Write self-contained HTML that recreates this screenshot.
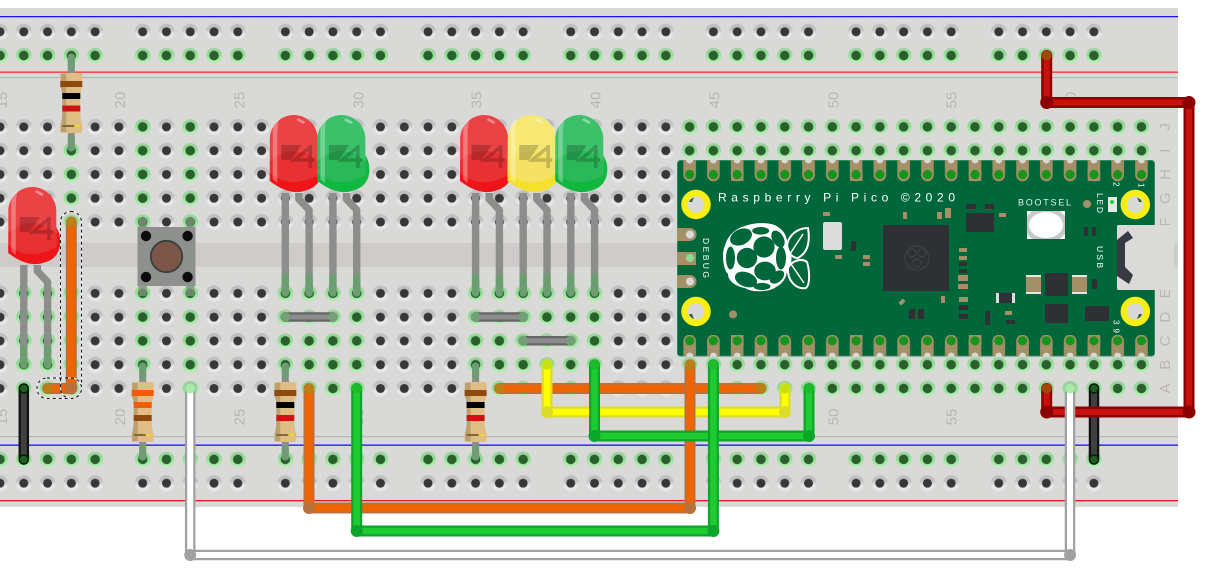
<!DOCTYPE html>
<html><head><meta charset="utf-8"><style>
html,body{margin:0;padding:0;background:#fff;width:1208px;height:580px;overflow:hidden}
svg{display:block}
text{font-family:"Liberation Sans",sans-serif}
.n{fill:#bab5b3;font-size:15px;text-anchor:middle}
.w{fill:#fff}
</style></head><body>
<svg width="1208" height="580" viewBox="0 0 1208 580" xmlns="http://www.w3.org/2000/svg">
<defs>
<linearGradient id="gd" x1="0" y1="0" x2="0" y2="1"><stop offset=".35" stop-color="#bfc0bf"/><stop offset=".65" stop-color="#e6e7e6"/></linearGradient>
<linearGradient id="gg" x1="0" y1="0" x2="0" y2="1"><stop offset="0" stop-color="#a8cfa8"/><stop offset=".3" stop-color="#8ed892"/><stop offset="1" stop-color="#b8f0b8"/></linearGradient>
<pattern id="dk" patternUnits="userSpaceOnUse" x="-11.89" y="115.01" width="23.78" height="23.78">
<circle cx="11.89" cy="11.89" r="8" fill="url(#gd)"/><circle cx="11.89" cy="11.89" r="4.5" fill="#363736"/></pattern>
<pattern id="gr" patternUnits="userSpaceOnUse" x="-11.89" y="115.01" width="23.78" height="23.78">
<circle cx="11.89" cy="11.89" r="7.8" fill="url(#gg)"/><circle cx="11.89" cy="11.89" r="4.8" fill="#2a602c"/></pattern>
<pattern id="pt" patternUnits="userSpaceOnUse" x="-11.89" y="160" width="23.78" height="22">
<path d="M5.6 0H18.2V15A6.3 6.3 0 0 1 5.6 15Z" fill="#a39067"/><circle cx="11.89" cy="0" r="3.4" fill="#d9dad8"/><circle cx="11.89" cy="14.5" r="4.6" fill="#17941c"/></pattern>
<pattern id="pb" patternUnits="userSpaceOnUse" x="-11.89" y="335" width="23.78" height="22">
<path d="M5.6 21H18.2V6A6.3 6.3 0 0 0 5.6 6Z" fill="#a39067"/><circle cx="11.89" cy="21" r="3.4" fill="#d9dad8"/><circle cx="11.89" cy="5.8" r="4.6" fill="#17941c"/></pattern>
<clipPath id="rc"><rect x="-11.89" y="0" width="118.9" height="580"/><rect x="130.79" y="0" width="118.9" height="580"/><rect x="273.47" y="0" width="118.9" height="580"/><rect x="416.15" y="0" width="118.9" height="580"/><rect x="558.83" y="0" width="118.9" height="580"/><rect x="701.51" y="0" width="118.9" height="580"/><rect x="844.19" y="0" width="118.9" height="580"/><rect x="986.87" y="0" width="118.9" height="580"/></clipPath>
<g id="led">
<path d="M0 78V178M13.5 78V84L23.8 95V178" fill="none" stroke="#8c8e8c" stroke-width="7.4" stroke-linejoin="round"/>
<path d="M0 162V178M23.8 162V178" stroke="#6b9e70" stroke-width="7.4" stroke-linecap="round"/>
<path d="M-15.5 58V66Q5 82 22 75C32 72 36.5 64 36.5 54C36.5 48 34.5 44 32.5 40V58Q8 72-15.5 58Z" style="fill:var(--f)"/>
<path d="M-15.5 24A24 24 0 0 1 32.5 24V60Q8 74-15.5 60Z" style="fill:var(--d)"/>
<path d="M-15.5 46Q8 26 32.5 46V60Q8 74-15.5 60Z" style="fill:var(--l)"/>
<path d="M-15.5 58Q8 76 32.5 60V64Q8 80-15.5 66Z" style="fill:var(--f)"/>
<path d="M-12.5 14Q-12 6-6 4Q-8 10-8 20V68L-12.5 64Z" fill="#fff" opacity=".3"/>
<path d="M13 3L20 7L18 9L11 5Z" fill="#fff" opacity=".4"/>
<g opacity=".2">
<path d="M-4 30H16L6 45H-4Z" fill="#000"/>
<path d="M25 30V53M25 32L9 45H29" fill="none" stroke="#000" stroke-width="3.5"/>
</g>
</g>
<g id="res">
<path d="M0-18V77" stroke="#8c8e8c" stroke-width="7"/>
<path d="M0-16V-6M0 66V75" stroke="#6f9c75" stroke-width="7" stroke-linecap="round"/>
<path d="M-11 2Q-11 0-9 0H9Q11 0 11 2V14Q9 18 9 24V40Q9 46 11 52V57Q11 60 9 60H-9Q-11 60-11 57V52Q-9 46-9 40V24Q-9 18-11 14Z" fill="#e0bd83"/>
<path d="M-10.5 1H-5V59H-10.5V52Q-9 46-9 40V24Q-9 18-10.5 14Z" fill="#8f7a55" opacity=".45"/>
<rect x="-9" y="52" width="18" height="2" fill="#7d6a3c"/><rect x="3" y="52" width="6" height="2" fill="#e8d840"/>
</g>
</defs>

<!-- board -->
<rect x="0" y="8" width="1178" height="499" fill="#d9dad8"/>
<rect x="0" y="243" width="1178" height="24" fill="#d0cbcb"/>
<rect x="0" y="16" width="1178" height="1.3" fill="#1414f0"/>
<rect x="0" y="71.5" width="1178" height="1.3" fill="#f03030"/>
<rect x="0" y="77" width="1178" height="1.2" fill="#bab5b2"/>
<rect x="0" y="436" width="1178" height="1.2" fill="#bab5b2"/>
<rect x="0" y="444.5" width="1178" height="1.3" fill="#1414f0"/>
<rect x="0" y="500" width="1178" height="1.3" fill="#f01414"/>

<!-- rail holes -->
<g clip-path="url(#rc)">
<rect x="-12" y="19.89" width="1200" height="23.78" fill="url(#dk)"/>
<rect x="-12" y="43.67" width="1200" height="23.78" fill="url(#gr)"/>
<g transform="translate(0,-.4)">
<rect x="-12" y="447.91" width="1200" height="23.78" fill="url(#gr)"/>
<rect x="-12" y="471.69" width="1200" height="23.78" fill="url(#dk)"/>
</g>
</g>
<!-- main holes -->
<rect x="-11.89" y="115.01" width="1165.22" height="118.9" fill="url(#dk)"/>
<rect x="-11.89" y="281.47" width="1165.22" height="118.9" fill="url(#dk)"/>
<g fill="#d9dad8">
<rect x="59.45" y="138.79" width="23.78" height="95.12"/><rect x="130.79" y="115.01" width="23.78" height="118.9"/><rect x="178.35" y="115.01" width="23.78" height="118.9"/><rect x="677.73" y="115.01" width="475.6" height="118.9"/>
<rect x="11.89" y="281.47" width="71.34" height="118.9"/><rect x="130.79" y="281.47" width="23.78" height="118.9"/><rect x="178.35" y="281.47" width="23.78" height="118.9"/><rect x="273.47" y="281.47" width="95.12" height="118.9"/><rect x="463.71" y="281.47" width="142.68" height="118.9"/><rect x="677.73" y="281.47" width="475.6" height="118.9"/>
</g>
<g fill="url(#gr)">
<rect x="59.45" y="138.79" width="23.78" height="95.12"/><rect x="130.79" y="115.01" width="23.78" height="118.9"/><rect x="178.35" y="115.01" width="23.78" height="118.9"/><rect x="677.73" y="115.01" width="475.6" height="118.9"/>
<rect x="11.89" y="281.47" width="71.34" height="118.9"/><rect x="130.79" y="281.47" width="23.78" height="118.9"/><rect x="178.35" y="281.47" width="23.78" height="118.9"/><rect x="273.47" y="281.47" width="95.12" height="118.9"/><rect x="463.71" y="281.47" width="142.68" height="118.9"/><rect x="677.73" y="281.47" width="475.6" height="118.9"/>
</g>

<!-- labels -->
<g class="n">
<text transform="translate(7,100) rotate(-90)">15</text><text transform="translate(125,100) rotate(-90)">20</text><text transform="translate(244.5,100) rotate(-90)">25</text><text transform="translate(363.5,100) rotate(-90)">30</text><text transform="translate(481.5,100) rotate(-90)">35</text><text transform="translate(600.5,100) rotate(-90)">40</text><text transform="translate(719.5,100) rotate(-90)">45</text><text transform="translate(838.5,100) rotate(-90)">50</text><text transform="translate(956.5,100) rotate(-90)">55</text><text transform="translate(1075.5,100) rotate(-90)">60</text>
<text transform="translate(7,417) rotate(-90)">15</text><text transform="translate(125,417) rotate(-90)">20</text><text transform="translate(244.5,417) rotate(-90)">25</text><text transform="translate(363.5,417) rotate(-90)">30</text><text transform="translate(481.5,417) rotate(-90)">35</text><text transform="translate(600.5,417) rotate(-90)">40</text><text transform="translate(719.5,417) rotate(-90)">45</text><text transform="translate(838.5,417) rotate(-90)">50</text><text transform="translate(956.5,417) rotate(-90)">55</text><text transform="translate(1075.5,417) rotate(-90)">60</text>
<text transform="translate(1170,127) rotate(-90)">J</text><text transform="translate(1170,150.7) rotate(-90)">I</text><text transform="translate(1170,174.5) rotate(-90)">H</text><text transform="translate(1170,198.2) rotate(-90)">G</text><text transform="translate(1170,222) rotate(-90)">F</text><text transform="translate(1170,293.4) rotate(-90)">E</text><text transform="translate(1170,317.2) rotate(-90)">D</text><text transform="translate(1170,341) rotate(-90)">C</text><text transform="translate(1170,364.8) rotate(-90)">B</text><text transform="translate(1170,388.5) rotate(-90)">A</text>
</g>

<!-- Pico -->
<rect x="677.5" y="160.5" width="477" height="195.5" rx="3" fill="#00673a" stroke="#2f8a60" stroke-width="1"/>
<rect x="677.73" y="160" width="475.6" height="22" fill="url(#pt)"/>
<rect x="677.73" y="335" width="475.6" height="21.5" fill="url(#pb)"/>
<g fill="#a39067">
<rect x="731" y="171" width="12.5" height="10"/><rect x="850" y="171" width="12.5" height="10"/><rect x="968.8" y="171" width="12.5" height="10"/><rect x="1087.7" y="171" width="12.5" height="10"/>
<rect x="731" y="335" width="12.5" height="10"/><rect x="850" y="335" width="12.5" height="10"/><rect x="968.8" y="335" width="12.5" height="10"/><rect x="1087.7" y="335" width="12.5" height="10"/>
</g>
<g fill="#17941c">
<circle cx="737.2" cy="174.5" r="4.6"/><circle cx="856.1" cy="174.5" r="4.6"/><circle cx="975" cy="174.5" r="4.6"/><circle cx="1093.9" cy="174.5" r="4.6"/>
<circle cx="737.2" cy="340.8" r="4.6"/><circle cx="856.1" cy="340.8" r="4.6"/><circle cx="975" cy="340.8" r="4.6"/><circle cx="1093.9" cy="340.8" r="4.6"/>
</g>
<!-- debug pads -->
<g fill="#a39067"><path d="M677 228H690A6.5 6.5 0 0 1 690 241H677Z"/><rect x="677" y="252" width="19" height="13"/><path d="M677 275H690A6.5 6.5 0 0 1 690 288H677Z"/></g>
<circle cx="690" cy="234.5" r="4" fill="#d9dad8"/><circle cx="690" cy="258" r="4" fill="#8fdc8f"/><circle cx="690" cy="281.5" r="4" fill="#d9dad8"/>
<!-- mounting holes -->
<g fill="#d9dad8" stroke="#f8ee16" stroke-width="6.5">
<circle cx="696" cy="204.5" r="11.5"/><circle cx="696" cy="311.5" r="11.5"/><circle cx="1135.3" cy="204.5" r="11.5"/><circle cx="1135.3" cy="311.5" r="11.5"/>
</g>
<g fill="#2a602c"><path d="M689 202A8 8 0 0 1 694 197.5L692 202Z"/><path d="M689 314A8 8 0 0 0 694 319L692 314Z"/><path d="M1142 202A8 8 0 0 0 1137 197.5L1139 202Z"/><path d="M1142 314A8 8 0 0 1 1137 319L1139 314Z"/></g>
<!-- raspberry logo -->
<path d="M745 226C755 222 772 222 778 227C786 232 788 240 787 246C793 252 793 265 787 270C787 278 782 284 776 287C770 292 752 293 745 288C738 287 728 282 728 274C722 268 722 250 725 246C727 236 736 228 745 226Z" fill="#fff"/>
<g fill="#00673a">
<ellipse cx="760.7" cy="230.8" rx="8.5" ry="3.8"/><ellipse cx="741" cy="237" rx="11.5" ry="7.8" transform="rotate(-25 741 237)"/><circle cx="764" cy="247" r="10.6"/><circle cx="747" cy="258" r="10.2"/><ellipse cx="781" cy="258" rx="5" ry="11.5"/><ellipse cx="730.5" cy="258" rx="4.5" ry="11.5"/><ellipse cx="765" cy="271" rx="10.8" ry="9.4"/><ellipse cx="746" cy="279.5" rx="11.5" ry="7.2" transform="rotate(20 746 279.5)"/><ellipse cx="777" cy="277" rx="8.3" ry="5.2" transform="rotate(-40 777 277)"/><ellipse cx="778" cy="239" rx="5.6" ry="9.2" transform="rotate(-30 778 239)"/><ellipse cx="762" cy="286.5" rx="8.5" ry="3.6"/>
</g>
<g fill="#00673a" stroke="#fff" stroke-width="2">
<path d="M787 246C788 235 798 228 808 228C810 240 809 252 798 258C793 258 789 254 787 246Z"/>
<path d="M788 268C792 260 802 258 807 262C810 272 810 285 806 288C796 290 787 280 788 268Z"/>
<path d="M790 254L803 234M791 264L804 283" fill="none" stroke-width="1.5"/>
</g>
<!-- big components -->
<g fill="#2e3133">
<rect x="883" y="225" width="66" height="66"/><rect x="966" y="213" width="28" height="19"/><rect x="1045" y="273" width="23" height="23"/><rect x="1045" y="304" width="23" height="19"/><rect x="1085" y="306" width="24" height="15"/><rect x="985" y="311" width="5" height="14"/>
<rect x="851" y="241" width="5" height="10"/><rect x="909" y="309" width="6" height="10"/><rect x="918" y="309" width="6" height="10"/><rect x="966" y="204" width="10" height="5"/><rect x="985" y="204" width="9" height="5"/><rect x="959" y="262" width="8" height="4"/><rect x="959" y="269" width="8" height="4"/><rect x="959" y="305" width="9" height="5"/><rect x="959" y="314" width="9" height="5"/><rect x="1006" y="320" width="9" height="4"/><rect x="1092" y="279" width="5" height="10"/><rect x="1084" y="227" width="4" height="9"/><rect x="1092" y="227" width="4" height="9"/><rect x="996" y="293" width="19" height="10"/>
</g>
<g fill="#dcdcdc"><rect x="996" y="293" width="3" height="10"/><rect x="1012" y="293" width="3" height="10"/></g>
<g fill="none" stroke="#3e4143" stroke-width="1.2"><circle cx="917" cy="258" r="12"/><circle cx="912" cy="253" r="4"/><circle cx="922" cy="253" r="4"/><circle cx="917" cy="263" r="4"/></g>
<g fill="#a39067">
<rect x="823" y="212" width="7" height="4"/><rect x="835" y="255" width="7" height="4"/><rect x="863" y="255" width="7" height="4"/><rect x="863" y="262" width="7" height="4"/><rect x="903" y="212" width="4" height="7"/><rect x="937" y="212" width="5" height="7"/><rect x="945" y="208" width="6" height="10"/><rect x="999" y="213" width="7" height="4"/><rect x="959" y="248" width="8" height="4"/><rect x="959" y="256" width="8" height="4"/><rect x="958" y="275" width="10" height="6"/><rect x="958" y="284" width="10" height="5"/><rect x="959" y="297" width="9" height="5"/><rect x="941" y="296" width="4" height="7"/><rect x="1005" y="311" width="7" height="4"/>
<rect x="1026" y="275" width="15" height="19"/><rect x="1072" y="275" width="15" height="19"/>
<circle cx="733" cy="314.5" r="4"/><circle cx="1087" cy="204" r="4"/>
<rect x="899" y="300" width="6" height="4" transform="rotate(-45 902 302)"/>
</g>
<g fill="#e6e6e2"><rect x="1026" y="275" width="15" height="2"/><rect x="1026" y="292" width="15" height="2"/><rect x="1072" y="275" width="15" height="2"/><rect x="1072" y="292" width="15" height="2"/></g>
<rect x="823" y="222" width="19" height="28" rx="2" fill="#dcdcdc"/>
<rect x="1027" y="211" width="38" height="28" rx="1" fill="#c8c8c8"/><path d="M1027 211h5l-5 5zM1065 211h-5l5 5zM1027 239h5l-5-5zM1065 239h-5l5-5z" fill="#fff"/><ellipse cx="1046" cy="225" rx="17" ry="13" fill="#fff"/>
<rect x="1108" y="197" width="9" height="15" fill="#e8e8e8"/><circle cx="1112" cy="202" r="2" fill="#1fcf3a"/>
<!-- USB -->
<rect x="1117" y="225" width="61" height="65" rx="1.5" fill="#dadbd9"/>
<rect x="1174" y="243" width="4" height="24" fill="#d0cbcb"/>
<path d="M1117 240L1128 231L1133 238L1125 243V267L1133 275L1129 284L1117 276Z" fill="#363b43"/>
<!-- Pico text -->
<text x="718" y="201.5" class="w" font-size="12" textLength="237" lengthAdjust="spacing">Raspberry Pi Pico ©2020</text>
<text x="1018" y="205.5" class="w" font-size="9" textLength="53" lengthAdjust="spacing" fill-opacity=".9">BOOTSEL</text>
<text transform="translate(703,238) rotate(90)" class="w" font-size="8.5" textLength="40" lengthAdjust="spacing">DEBUG</text>
<text transform="translate(1097,193) rotate(90)" class="w" font-size="8.5" textLength="20" lengthAdjust="spacing">LED</text>
<text transform="translate(1097,246) rotate(90)" class="w" font-size="8.5" textLength="22" lengthAdjust="spacing">USB</text>
<text transform="translate(1113.5,182) rotate(90)" class="w" font-size="8">2</text>
<text transform="translate(1138.5,183) rotate(90)" class="w" font-size="8">1</text>
<text transform="translate(1113.5,320) rotate(90)" class="w" font-size="8" textLength="13" lengthAdjust="spacing">39</text>

<!-- button -->
<g fill="#82957f" opacity=".75"><rect x="138.6" y="218" width="8" height="10"/><rect x="186.2" y="218" width="8" height="10"/><rect x="138.6" y="285" width="8" height="11"/><rect x="186.2" y="285" width="8" height="11"/></g>
<rect x="137.5" y="227" width="58" height="59" fill="#8e908d"/>
<g fill="#0c0c0c"><circle cx="146" cy="236" r="5.2"/><circle cx="187.6" cy="236" r="5.2"/><circle cx="146" cy="277" r="5.2"/><circle cx="187.6" cy="277" r="5.2"/></g>
<circle cx="166.5" cy="256.5" r="15.7" fill="#7b5649" stroke="#3a3f3f" stroke-width="1.8"/>

<!-- resistors -->
<use href="#res" x="71.3" y="73"/><g transform="translate(71.3,73)"><rect x="-11" y="8" width="22" height="6" fill="#8f4a10"/><rect x="-9" y="20" width="18" height="6" fill="#000"/><rect x="-9" y="32.5" width="18" height="6" fill="#cc1414"/></g>
<use href="#res" x="142.7" y="382"/><g transform="translate(142.7,382)"><rect x="-11" y="8" width="22" height="6" fill="#f25c05"/><rect x="-9" y="20" width="18" height="6" fill="#f25c05"/><rect x="-9" y="33" width="18" height="6" fill="#8f4a10"/></g>
<use href="#res" x="285.3" y="382"/><g transform="translate(285.3,382)"><rect x="-11" y="8" width="22" height="6" fill="#8f4a10"/><rect x="-9" y="20" width="18" height="6" fill="#000"/><rect x="-9" y="33" width="18" height="6" fill="#cc1414"/></g>
<use href="#res" x="475.6" y="382"/><g transform="translate(475.6,382)"><rect x="-11" y="8" width="22" height="6" fill="#8f4a10"/><rect x="-9" y="20" width="18" height="6" fill="#000"/><rect x="-9" y="33" width="18" height="6" fill="#cc1414"/></g>

<!-- small jumpers -->
<g fill="none" stroke-linecap="round">
<path d="M285.3 317H333" stroke="#666" stroke-width="9.5"/><path d="M285.3 317H333" stroke="#8c8c8c" stroke-width="5"/>
<path d="M475.6 317H523.2" stroke="#666" stroke-width="9.5"/><path d="M475.6 317H523.2" stroke="#8c8c8c" stroke-width="5"/>
<path d="M523.2 340.8H570.8" stroke="#666" stroke-width="9.5"/><path d="M523.2 340.8H570.8" stroke="#8c8c8c" stroke-width="5"/>
</g>
<g fill="#73a078"><circle cx="285.3" cy="317" r="5"/><circle cx="333" cy="317" r="5"/><circle cx="475.6" cy="317" r="5"/><circle cx="523.2" cy="317" r="5"/><circle cx="523.2" cy="340.8" r="5"/><circle cx="570.8" cy="340.8" r="5"/></g>

<!-- LEDs -->
<use href="#led" x="23.8" y="187" style="--d:#ea4245;--l:#e83133;--f:#ee1418"/>
<use href="#led" x="285.3" y="115" style="--d:#ea4245;--l:#e83133;--f:#ee1418"/>
<use href="#led" x="332.9" y="115" style="--d:#3cc06a;--l:#2ab858;--f:#10b840"/>
<use href="#led" x="475.6" y="115" style="--d:#ea4245;--l:#e83133;--f:#ee1418"/>
<use href="#led" x="523.2" y="115" style="--d:#f7e873;--l:#f5e264;--f:#f6e02e"/>
<use href="#led" x="570.8" y="115" style="--d:#3cc06a;--l:#2ab858;--f:#10b840"/>

<!-- wires -->
<g fill="none" stroke-linecap="round" stroke-linejoin="round">
<path d="M23.8 388.5V459.5" stroke="#111" stroke-width="10.5"/><path d="M23.8 388.5V459.5" stroke="#404040" stroke-width="6"/>
<path d="M1094 388.5V459.5" stroke="#111" stroke-width="10.5"/><path d="M1094 388.5V459.5" stroke="#404040" stroke-width="6"/>
<path d="M71.3 222V388.5H47.5" stroke="#b9703c" stroke-width="11"/><path d="M71.3 222V388.5H47.5" stroke="#f06400" stroke-width="7"/>
<path d="M1046.7 55.500V102.5H1189V412H1046.7V388.5" stroke="#8c0000" stroke-width="11"/><path d="M1046.7 55.500V102.5H1189V412H1046.7V388.5" stroke="#c8100f" stroke-width="6"/>
<path d="M190.2 388.5V555H1070V388.5" stroke="#a0a2a0" stroke-width="10.5"/><path d="M190.2 388.5V555H1070V388.5" stroke="#fff" stroke-width="6"/>
<path d="M499.4 388.5H761" stroke="#b9703c" stroke-width="11"/><path d="M499.4 388.5H761" stroke="#f06400" stroke-width="7"/>
<path d="M547 364.8V412H785V388.5" stroke="#dcdc28" stroke-width="11"/><path d="M547 364.8V412H785V388.5" stroke="#ffff00" stroke-width="6.5"/>
<path d="M309 388.5V508H690V364.8" stroke="#b9703c" stroke-width="11"/><path d="M309 388.5V508H690V364.8" stroke="#f06400" stroke-width="7"/>
<path d="M594.5 364.8V436H809V388.5" stroke="#0ba52c" stroke-width="11"/><path d="M594.5 364.8V436H809V388.5" stroke="#1ecb30" stroke-width="6.5"/>
<path d="M356.7 388.5V531H713.4V364.8" stroke="#0ba52c" stroke-width="11"/><path d="M356.7 388.5V531H713.4V364.8" stroke="#1ecb30" stroke-width="6.5"/>
</g>
<!-- corners -->
<g fill="#b9703c"><circle cx="71.3" cy="388.5" r="6"/><circle cx="309" cy="508" r="6"/><circle cx="690" cy="508" r="6"/></g>
<g fill="#8c0000"><circle cx="1046.7" cy="102.5" r="6.5"/><circle cx="1189" cy="102.5" r="6.5"/><circle cx="1189" cy="412" r="6.5"/><circle cx="1046.7" cy="412" r="6.5"/></g>
<g fill="#a0a2a0"><circle cx="190.2" cy="555" r="6"/><circle cx="1070" cy="555" r="6"/></g>
<g fill="#dcdc28"><circle cx="547" cy="412" r="6"/><circle cx="785" cy="412" r="6"/></g>
<g fill="#0ba52c"><circle cx="594.5" cy="436" r="6"/><circle cx="809" cy="436" r="6"/><circle cx="356.7" cy="531" r="6"/><circle cx="713.4" cy="531" r="6"/></g>
<!-- wire ends -->
<g fill="#b88016"><circle cx="47.5" cy="388.5" r="5"/><circle cx="71.3" cy="222" r="5"/><circle cx="309" cy="388.5" r="5"/><circle cx="690" cy="364.8" r="5"/><circle cx="499.4" cy="388.5" r="5"/><circle cx="761" cy="388.5" r="5"/></g>
<g fill="#a04808"><circle cx="1046.7" cy="55.5" r="5"/><circle cx="1046.7" cy="388.5" r="5"/></g>
<g fill="#c8e010"><circle cx="547" cy="364.8" r="5"/><circle cx="785" cy="388.5" r="5"/></g>
<g fill="#1eb92c"><circle cx="594.5" cy="364.8" r="5"/><circle cx="809" cy="388.5" r="5"/><circle cx="356.7" cy="388.5" r="5"/><circle cx="713.4" cy="364.8" r="5"/></g>
<g fill="#a8e8a8"><circle cx="190.2" cy="388.5" r="5"/><circle cx="1070" cy="388.5" r="5"/></g>
<g fill="#1f5f22" stroke="#0a1a0a" stroke-width="1.5"><circle cx="23.8" cy="388.5" r="4.500"/><circle cx="23.8" cy="459.5" r="4.500"/><circle cx="1094" cy="388.5" r="4.500"/><circle cx="1094" cy="459.5" r="4.500"/></g>
<!-- selection dashes -->
<g fill="none" stroke-width="1">
<rect x="60.500" y="211.500" width="21" height="187" rx="10.500" stroke="#fff"/>
<rect x="60.500" y="211.500" width="21" height="187" rx="10.500" stroke="#111" stroke-dasharray="3 3"/>
<rect x="37" y="378" width="44.500" height="20.500" rx="10" stroke="#fff"/>
<rect x="37" y="378" width="44.500" height="20.500" rx="10" stroke="#111" stroke-dasharray="3 3"/>
</g>
</svg>
</body></html>
